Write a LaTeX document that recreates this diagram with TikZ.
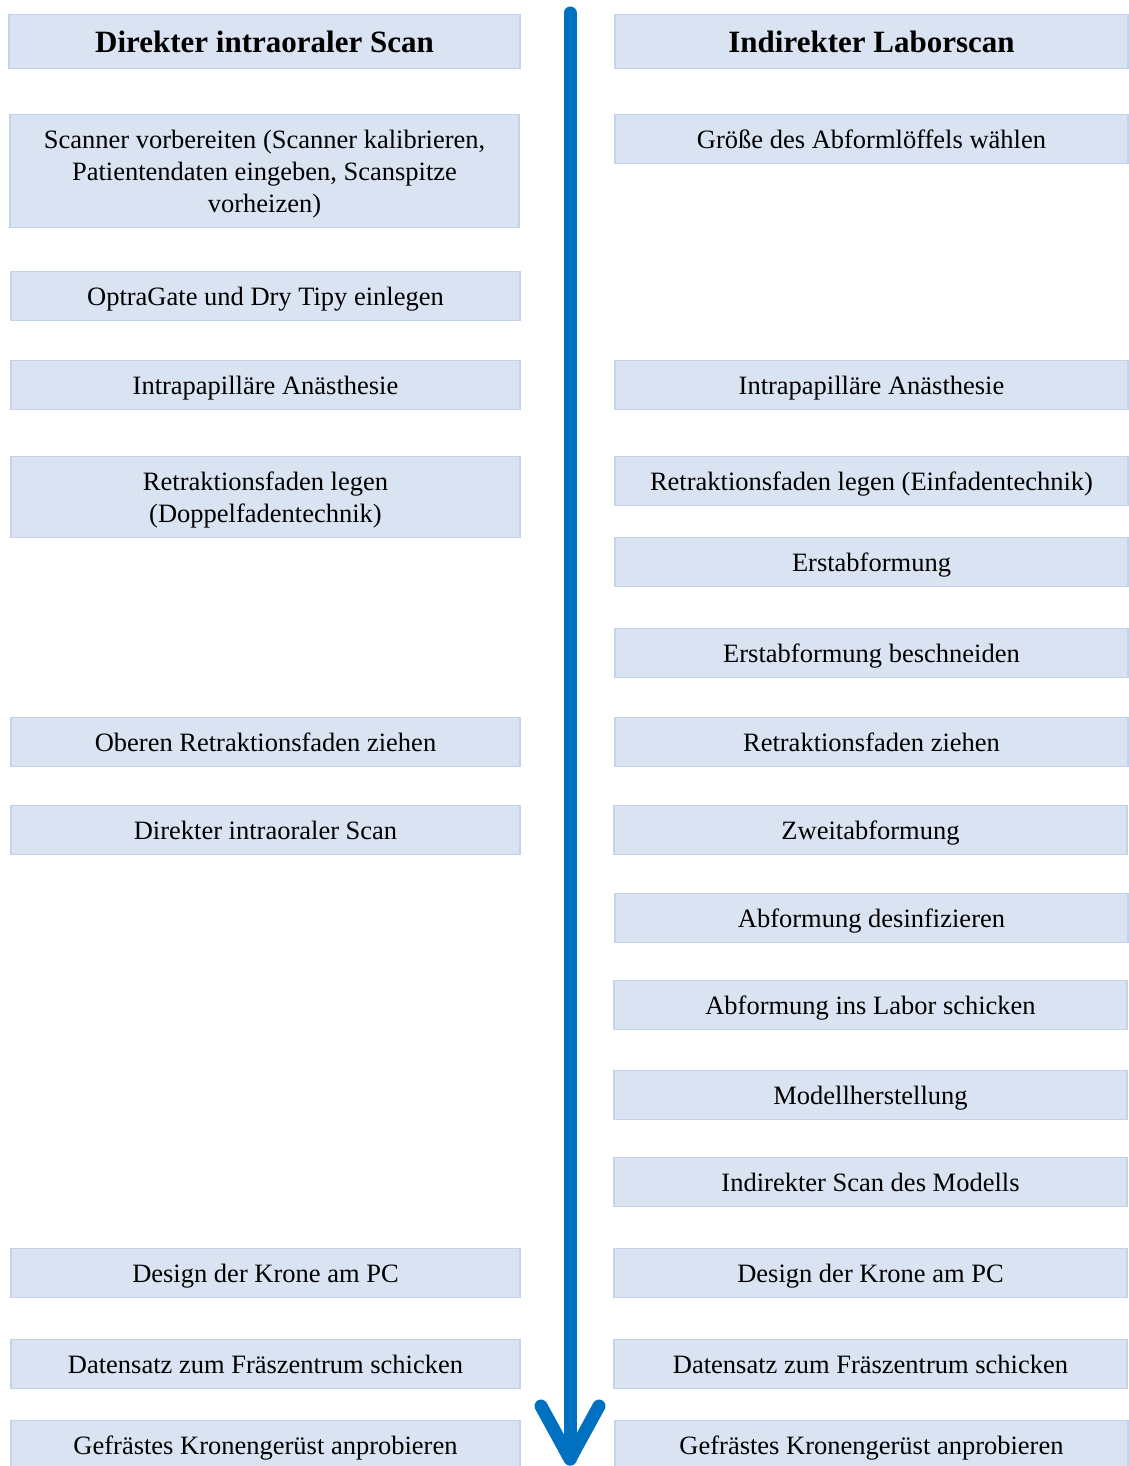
\documentclass[tikz,border=0pt]{standalone}
\usepackage{fontspec}
\setmainfont{Liberation Serif}
\usetikzlibrary{positioning}

\definecolor{boxfill}{HTML}{DAE3F1}
\definecolor{boxline}{HTML}{C3D3EC}
\definecolor{flowblue}{HTML}{0070C0}

\tikzset{
  stepbox/.style={draw=boxline, fill=boxfill, line width=1.2pt, anchor=north,
    inner sep=0pt, align=center, minimum height=49pt,
    text height=23.6pt, text depth=5.7pt,
    font=\fontsize{26.5}{32}\selectfont},
  leftbox/.style={stepbox, minimum width=509pt},
  rightbox/.style={stepbox, minimum width=513pt},
  headbox/.style={minimum height=54pt, text height=27.6pt, text depth=6.7pt,
    font=\fontsize{31}{36}\selectfont\bfseries},
  flowline/.style={draw=flowblue, line width=13pt, line cap=round, line join=round}
}

\begin{document}
\begin{tikzpicture}[x=1pt, y=-1pt]
\useasboundingbox [fill=white] (0,0) rectangle (1128,1466);

% linke Spalte
\node [leftbox, headbox, minimum width=511pt] (hdL) at (264.5,14) {Direkter intraoraler Scan};
\node [leftbox, minimum height=113pt, text height=87.6pt] (l1) at (264.5,114) {Scanner vorbereiten (Scanner kalibrieren,\\ Patientendaten eingeben, Scanspitze\\ vorheizen)};
\node [leftbox] (l2) at (265.5,271) {OptraGate und Dry Tipy einlegen};
\node [leftbox] (l3) at (265.5,360) {Intrapapilläre Anästhesie};
\node [leftbox, minimum height=81pt, text height=55.6pt] (l4) at (265.5,456) {Retraktionsfaden legen\\ (Doppelfadentechnik)};
\node [leftbox] (l5) at (265.5,717) {Oberen Retraktionsfaden ziehen};
\node [leftbox] (l6) at (265.5,805) {Direkter intraoraler Scan};
\node [leftbox] (l7) at (265.5,1248) {Design der Krone am PC};
\node [leftbox] (l8) at (265.5,1339) {Datensatz zum Fräszentrum schicken};
\node [leftbox] (l9) at (265.5,1420) {Gefrästes Kronengerüst anprobieren};

% rechte Spalte
\node [rightbox, headbox] (hdR) at (871.5,14) {Indirekter Laborscan};
\node [rightbox] (r1) at (871.5,114) {Größe des Abformlöffels wählen};
\node [rightbox] (r2) at (871.5,360) {Intrapapilläre Anästhesie};
\node [rightbox] (r3) at (871.5,456) {Retraktionsfaden legen (Einfadentechnik)};
\node [rightbox] (r4) at (871.5,537) {Erstabformung};
\node [rightbox] (r5) at (871.5,628) {Erstabformung beschneiden};
\node [rightbox] (r6) at (871.5,717) {Retraktionsfaden ziehen};
\node [rightbox] (r7) at (870.5,805) {Zweitabformung};
\node [rightbox] (r8) at (871.5,893) {Abformung desinfizieren};
\node [rightbox] (r9) at (870.5,980) {Abformung ins Labor schicken};
\node [rightbox] (r10) at (870.5,1070) {Modellherstellung};
\node [rightbox] (r11) at (870.5,1157) {Indirekter Scan des Modells};
\node [rightbox] (r12) at (870.5,1248) {Design der Krone am PC};
\node [rightbox] (r13) at (870.5,1339) {Datensatz zum Fräszentrum schicken};
\node [rightbox] (r14) at (871.5,1420) {Gefrästes Kronengerüst anprobieren};

% Zeitachse
\coordinate (start) at (570,13);
\coordinate (tip) at (570,1459);
\draw [flowline] (start) -- (tip);
\draw [flowline] ([shift={(-29,-53)}]tip) -- (tip) -- ([shift={(29,-53)}]tip);
\end{tikzpicture}
\end{document}
